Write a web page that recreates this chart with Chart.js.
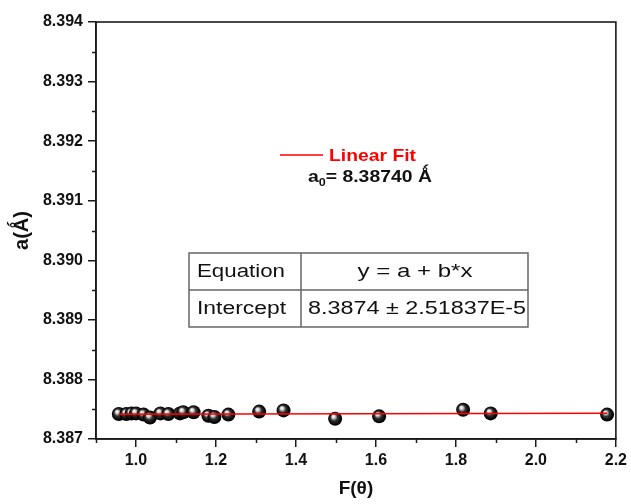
<!DOCTYPE html>
<html>
<head>
<meta charset="utf-8">
<script src="https://cdn.jsdelivr.net/npm/chart.js@4.4.0/dist/chart.umd.min.js"></script>
<style>
html,body{margin:0;padding:0;background:#fff;}
canvas{display:block;}
</style>
</head>
<body>
<canvas id="c" width="631" height="504"></canvas>
<script>
// ---- data ----
const xVals = [0.957,0.976,0.989,1.000,1.019,1.035,1.061,1.081,1.110,1.118,1.144,1.181,1.196,1.231,1.308,1.369,1.498,1.608,1.818,1.887,2.178];
const yVals = [8.38742,8.38742,8.38743,8.38743,8.38741,8.38736,8.38743,8.38742,8.38743,8.38745,8.38745,8.38739,8.38737,8.38741,8.38746,8.38748,8.38734,8.38738,8.38749,8.38743,8.38741];
const fitX = [0.957, 2.178];
const fitY = [8.387417, 8.387433];
const xTickVals = [1.0,1.2,1.4,1.6,1.8,2.0,2.2];
const xMinorVals = [0.9,1.1,1.3,1.5,1.7,1.9,2.1];
const yTickVals = [8.387,8.388,8.389,8.390,8.391,8.392,8.393,8.394];
const yMinorVals = [8.3875,8.3885,8.3895,8.3905,8.3915,8.3925,8.3935];
const tableRows = [["Equation","y = a + b*x"],["Intercept","8.3874 \u00B1 2.51837E-5"]];
const legendLabel = "Linear Fit";
const a0Text = "8.38740";

const FONT = "'Liberation Sans', Arial, sans-serif";
const INK = '#111';

function sphere(ctx){
  if (ctx.type !== 'data') return '#000';
  const chart = ctx.chart;
  if (!chart.chartArea) return '#000';
  const px = chart.scales.x.getPixelForValue(ctx.raw.x);
  const py = chart.scales.y.getPixelForValue(ctx.raw.y);
  const g = chart.ctx.createRadialGradient(px-2, py-2.5, 0.3, px, py, 7.5);
  g.addColorStop(0, '#ffffff');
  g.addColorStop(0.2, '#c8c8c8');
  g.addColorStop(0.45, '#333333');
  g.addColorStop(0.8, '#050505');
  g.addColorStop(1, '#000000');
  return g;
}

function fitText(c, text, x, y, targetW, align){
  const w = c.measureText(text).width;
  const s = targetW / w;
  c.save();
  let ox = x;
  if (align === 'center') ox = x - targetW/2;
  c.translate(ox, y);
  c.scale(s, 1);
  c.textAlign = 'left';
  c.fillText(text, 0, 0);
  c.restore();
}

const extras = {
  id: 'extras',
  afterDraw(chart){
    const c = chart.ctx;
    const a = chart.chartArea;
    const xs = chart.scales.x, ys = chart.scales.y;
    c.save();
    // frame
    c.strokeStyle = '#1a1a1a';
    c.lineWidth = 1.6;
    c.strokeRect(a.left, a.top, a.right - a.left, a.bottom - a.top);
    // minor ticks
    c.lineWidth = 1.5;
    c.beginPath();
    xMinorVals.forEach(v => {
      const p = Math.round(xs.getPixelForValue(v)) + 0.5;
      c.moveTo(p, a.bottom); c.lineTo(p, a.bottom + 4);
    });
    yMinorVals.forEach(v => {
      const p = Math.round(ys.getPixelForValue(v)) + 0.5;
      c.moveTo(a.left, p); c.lineTo(a.left - 4, p);
    });
    c.stroke();

    // legend
    c.strokeStyle = '#ff0000';
    c.lineWidth = 1.5;
    c.beginPath(); c.moveTo(280, 155); c.lineTo(323, 155); c.stroke();
    c.fillStyle = '#ff0000';
    c.font = 'bold 17px ' + FONT;
    c.textBaseline = 'middle';
    fitText(c, legendLabel, 329, 156, 87, 'left');

    // a0 text
    c.fillStyle = INK;
    c.textBaseline = 'alphabetic';
    const sx = 1.14;
    c.save();
    c.translate(308, 182);
    c.scale(sx, 1);
    c.font = 'bold 17px ' + FONT;
    c.fillText('a', 0, 0);
    let cx = c.measureText('a').width;
    c.font = 'bold 11px ' + FONT;
    c.fillText('0', cx, 4);
    cx += c.measureText('0').width;
    c.font = 'bold 17px ' + FONT;
    c.fillText('= ' + a0Text + ' \u01FA', cx, 0);
    c.restore();

    // table
    const tx0 = 189, tx1 = 301, tx2 = 528, ty0 = 253, ty1 = 290, ty2 = 327;
    c.fillStyle = '#fff';
    c.fillRect(tx0, ty0, tx2 - tx0, ty2 - ty0);
    c.strokeStyle = '#666';
    c.lineWidth = 1.5;
    c.strokeRect(tx0, ty0, tx2 - tx0, ty2 - ty0);
    c.beginPath();
    c.moveTo(tx0, ty1); c.lineTo(tx2, ty1);
    c.moveTo(tx1, ty0); c.lineTo(tx1, ty2);
    c.stroke();
    c.fillStyle = INK;
    c.font = '18px ' + FONT;
    c.textBaseline = 'middle';
    fitText(c, tableRows[0][0], 197, 272, 88, 'left');
    fitText(c, tableRows[0][1], 415, 272, 115, 'center');
    fitText(c, tableRows[1][0], 197, 309, 89, 'left');
    fitText(c, tableRows[1][1], 308, 309, 218, 'left');
    c.restore();
  }
};

new Chart(document.getElementById('c'), {
  type: 'scatter',
  data: {
    datasets: [
      {
        label: legendLabel,
        data: fitX.map((x, i) => ({x: x, y: fitY[i]})),
        showLine: true,
        borderColor: '#ff0000',
        borderWidth: 1.5,
        pointRadius: 0,
        order: 0
      },
      {
        label: 'a',
        data: xVals.map((x, i) => ({x: x, y: yVals[i]})),
        pointRadius: 7,
        pointHoverRadius: 7,
        backgroundColor: sphere,
        borderWidth: 0,
        order: 1
      }
    ]
  },
  options: {
    responsive: false,
    animation: false,
    layout: { padding: { top: 22, right: 15, left: 0, bottom: 0 } },
    plugins: { legend: { display: false }, tooltip: { enabled: false } },
    scales: {
      x: {
        type: 'linear',
        min: 0.9, max: 2.2,
        afterBuildTicks: s => { s.ticks = xTickVals.map(v => ({value: v})); },
        afterFit: s => { s.height = 65; },
        ticks: {
          callback: v => Number(v).toFixed(1),
          font: { family: FONT, size: 16, weight: 'bold' },
          color: INK, padding: 4, maxRotation: 0, autoSkip: false
        },
        grid: { drawOnChartArea: false, tickLength: 8, color: '#1a1a1a', lineWidth: 1.5 },
        border: { color: '#1a1a1a', width: 1.6 },
        title: { display: true, text: 'F(\u03B8)', color: INK,
                 font: { family: FONT, size: 19, weight: 'bold' },
                 padding: { top: 0, bottom: 4 } }
      },
      y: {
        type: 'linear',
        min: 8.387, max: 8.394,
        afterBuildTicks: s => { s.ticks = yTickVals.map(v => ({value: v})); },
        afterFit: s => { s.width = 96; },
        ticks: {
          callback: v => Number(v).toFixed(3),
          font: { family: FONT, size: 16, weight: 'bold' },
          color: INK, padding: 5, autoSkip: false
        },
        grid: { drawOnChartArea: false, tickLength: 8, color: '#1a1a1a', lineWidth: 1.5 },
        border: { color: '#1a1a1a', width: 1.6 },
        title: { display: true, text: 'a(\u01FA)', color: INK,
                 font: { family: FONT, size: 20, weight: 'bold' },
                 padding: { top: 10, bottom: 0 } }
      }
    }
  },
  plugins: [extras]
});
</script>
</body>
</html>
